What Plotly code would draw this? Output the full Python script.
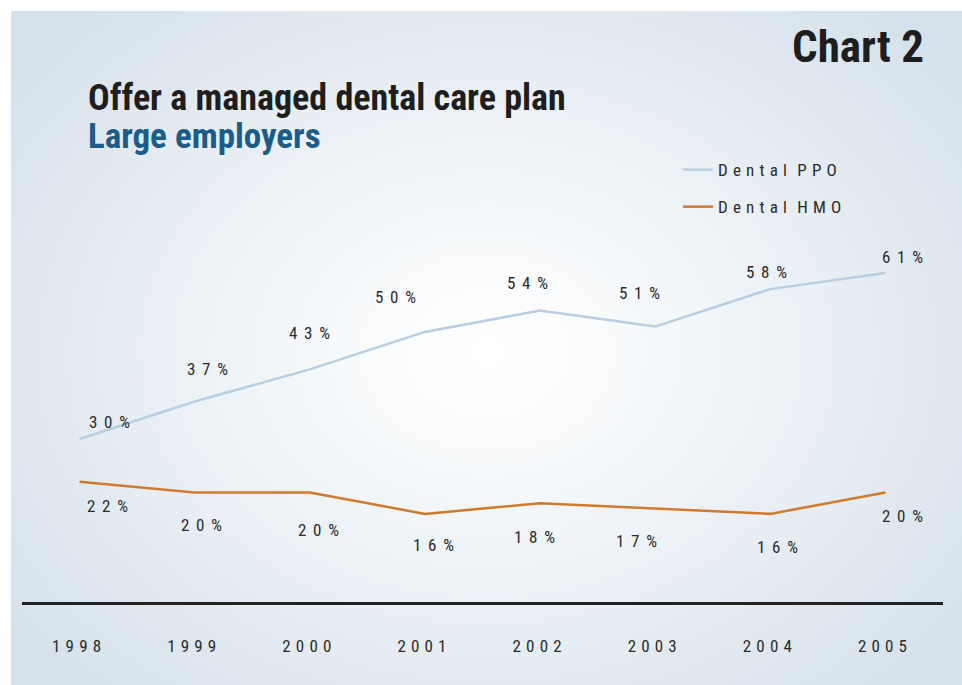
import base64
import plotly.graph_objects as go

# ---- data ----
years = ["1998", "1999", "2000", "2001", "2002", "2003", "2004", "2005"]
ppo = [30, 37, 43, 50, 54, 51, 58, 61]
hmo = [22, 20, 20, 16, 18, 17, 16, 20]
series_names = ["Dental PPO", "Dental HMO"]

# ---- style ----
PPO_COLOR = "#b9cee1"
HMO_COLOR = "#cf7b2f"
TEXT = "#2b2b2b"
FONT = "Roboto Condensed, Liberation Sans Narrow, DejaVu Sans Condensed, sans-serif"
SEP_TICK = "\u2004"
SEP_LBL = "\u2005\u2006"
# label offsets in pixels (dx, dy up)
ppo_off = [(30, 17), (13, 33), (0, 36), (-29, 35), (-13, 28), (-16, 34), (-4, 17), (17, 16)]
hmo_off = [(28, -24), (7, -33), (9, -38), (9, -31), (-6, -34), (-19, -32), (7, -33), (17, -24)]

W, H = 962, 685
L, R, T, B = 22, 943, 150, 602


def spaced(s, sep):
    return sep.join(list(s)).replace(sep + " " + sep, sep + sep)


def px(x):
    return (x - L) / (R - L)


def py(y):
    return (B - y) / (B - T)


fig = go.Figure()
fig.add_trace(go.Scatter(x=list(range(len(years))), y=ppo, mode="lines",
                         name=spaced(series_names[0], SEP_TICK),
                         line=dict(color=PPO_COLOR, width=2.5), legendgroup="a"))
fig.add_trace(go.Scatter(x=list(range(len(years))), y=hmo, mode="lines",
                         name=spaced(series_names[1], SEP_TICK),
                         line=dict(color=HMO_COLOR, width=2.5), legendgroup="b"))

ann = []
for i, (v, (dx, dy)) in enumerate(zip(ppo, ppo_off)):
    ann.append(dict(x=i, y=v, xref="x", yref="y", text=spaced(f"{v}%", SEP_LBL), showarrow=False,
                    xshift=dx, yshift=dy, font=dict(family=FONT, size=17, color=TEXT)))
for i, (v, (dx, dy)) in enumerate(zip(hmo, hmo_off)):
    ann.append(dict(x=i, y=v, xref="x", yref="y", text=spaced(f"{v}%", SEP_LBL), showarrow=False,
                    xshift=dx, yshift=dy, font=dict(family=FONT, size=17, color=TEXT)))

ann.append(dict(x=px(926), y=py(46), xref="paper", yref="paper", text="<b>Chart 2</b>",
                showarrow=False, xanchor="right", yanchor="middle",
                font=dict(family=FONT, size=45, color="#1e1e1e")))
ann.append(dict(x=px(86), y=py(98), xref="paper", yref="paper",
                text="<b>Offer a managed dental care plan</b>",
                showarrow=False, xanchor="left", yanchor="middle",
                font=dict(family=FONT, size=36, color="#1e1e1e")))
ann.append(dict(x=px(86), y=py(137), xref="paper", yref="paper",
                text="<b>Large employers</b>",
                showarrow=False, xanchor="left", yanchor="middle",
                font=dict(family=FONT, size=35, color="#1b5c89")))

# radial gradient background panel
pw, ph = W - 11, H - 11
svg = f'''<svg xmlns="http://www.w3.org/2000/svg" width="{pw}" height="{ph}" viewBox="0 0 {pw} {ph}" preserveAspectRatio="none">
<defs><radialGradient id="g" gradientUnits="userSpaceOnUse" cx="476" cy="342" r="600"
 gradientTransform="translate(476 342) scale(1 0.78) translate(-476 -342)">
<stop offset="0" stop-color="#ffffff"/>
<stop offset="0.15" stop-color="#fbfcfd"/>
<stop offset="0.45" stop-color="#eef3f7"/>
<stop offset="0.75" stop-color="#e1e9f0"/>
<stop offset="1" stop-color="#d5e1eb"/>
</radialGradient></defs>
<rect x="0" y="0" width="{pw}" height="{ph}" fill="url(#g)"/></svg>'''
src = "data:image/svg+xml;base64," + base64.b64encode(svg.encode()).decode()

fig.update_layout(
    width=W, height=H,
    margin=dict(l=L, r=W - R, t=T, b=H - B, pad=0),
    paper_bgcolor="white", plot_bgcolor="rgba(0,0,0,0)",
    font=dict(family=FONT, color=TEXT),
    images=[dict(source=src, xref="paper", yref="paper", x=px(11), y=py(11),
                 sizex=(W - 11) / (R - L), sizey=(H - 11) / (B - T),
                 xanchor="left", yanchor="top", sizing="stretch", layer="below")],
    showlegend=True,
    legend=dict(x=px(678), y=py(152), xanchor="left", yanchor="top",
                bgcolor="rgba(0,0,0,0)", font=dict(family=FONT, size=17, color=TEXT),
                tracegroupgap=12, itemwidth=30),
    annotations=ann,
    xaxis=dict(type="linear", range=[-0.5, 7.5], showgrid=False, zeroline=False, showline=True,
               linecolor="#222222", linewidth=2.5, ticks="",
               tickvals=list(range(len(years))), ticktext=[spaced(y, SEP_TICK) for y in years],
               tickfont=dict(family=FONT, size=17, color=TEXT), ticklabelstandoff=27,
               ticklabelshift=-3, fixedrange=True),
    yaxis=dict(range=[-0.47, 84.0], visible=False, fixedrange=True),
)

fig.write_html("out.html")
